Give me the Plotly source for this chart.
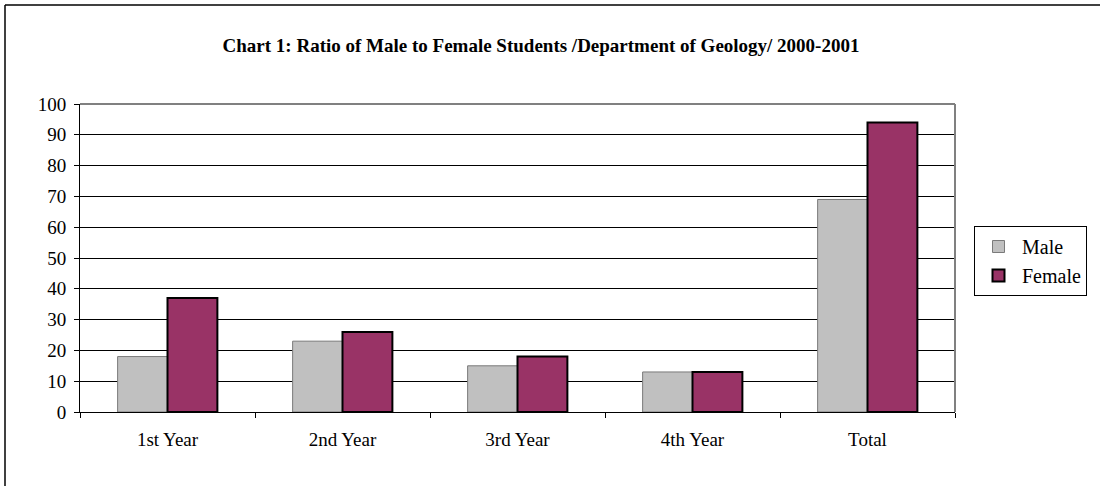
import plotly.graph_objects as go

categories = ["1st Year", "2nd Year", "3rd Year", "4th Year", "Total"]
male = [18, 23, 15, 13, 69]
female = [37, 26, 18, 13, 94]
y_ticks = list(range(0, 101, 10))
title_text = "Chart 1: Ratio of Male to Female Students /Department of Geology/ 2000-2001"

FONT = "Liberation Serif"

fig = go.Figure()
fig.add_trace(go.Bar(
    name="Male", x=categories, y=male,
    marker=dict(color="#C0C0C0", line=dict(color="#7a7a7a", width=1)),
))
fig.add_trace(go.Bar(
    name="Female", x=categories, y=female,
    marker=dict(color="#993366", line=dict(color="#000000", width=2)),
))

L, R, T, B = 80, 145, 104, 74
PW, PH = 1100 - L - R, 486 - T - B

fig.update_layout(
    width=1100, height=486,
    margin=dict(l=L, r=R, t=T, b=B),
    paper_bgcolor="white", plot_bgcolor="white",
    barmode="group", bargap=0.43, bargroupgap=0,
    font=dict(family=FONT, size=19, color="black"),
    title=dict(text=title_text, x=541 / 1100, xanchor="center",
               y=1 - 45 / 486, yanchor="middle",
               font=dict(family=FONT, size=19, color="black", weight="bold")),
    showlegend=True,
    legend=dict(x=1 + (974 - (1100 - R)) / PW, xanchor="left",
                y=1 - (226 - T) / PH, yanchor="top",
                bordercolor="#000000", borderwidth=1, bgcolor="white",
                font=dict(family=FONT, size=20), itemwidth=37),
    xaxis=dict(showgrid=False, showline=True, linecolor="black", linewidth=1,
               ticks="outside", tickson="boundaries", ticklen=5, tickcolor="black",
               mirror=False, ticklabelstandoff=10),
    yaxis=dict(range=[0, 100], tickvals=y_ticks, showgrid=True, gridcolor="black",
               gridwidth=1, showline=True, linecolor="black", linewidth=1,
               ticks="outside", ticklen=5, tickcolor="black", zeroline=False,
               ticklabelstandoff=4),
    shapes=[
        dict(type="line", xref="paper", yref="paper", x0=0, x1=1, y0=1, y1=1,
             line=dict(color="#808080", width=2)),
        dict(type="line", xref="paper", yref="paper", x0=1, x1=1, y0=0, y1=1,
             line=dict(color="#808080", width=2)),
        dict(type="line", xref="paper", yref="paper",
             x0=(5 - L) / PW, x1=(1110 - L) / PW,
             y0=(486 - B - 5) / PH, y1=(486 - B - 5) / PH,
             line=dict(color="black", width=1.5)),
        dict(type="line", xref="paper", yref="paper",
             x0=(5 - L) / PW, x1=(5 - L) / PW,
             y0=(486 - B - 5) / PH, y1=-(B + 10) / PH,
             line=dict(color="black", width=1.5)),
    ],
)

fig.write_html("out.html", config={"displayModeBar": False},
               post_script="document.body.style.margin='0';document.body.style.overflow='hidden';")
